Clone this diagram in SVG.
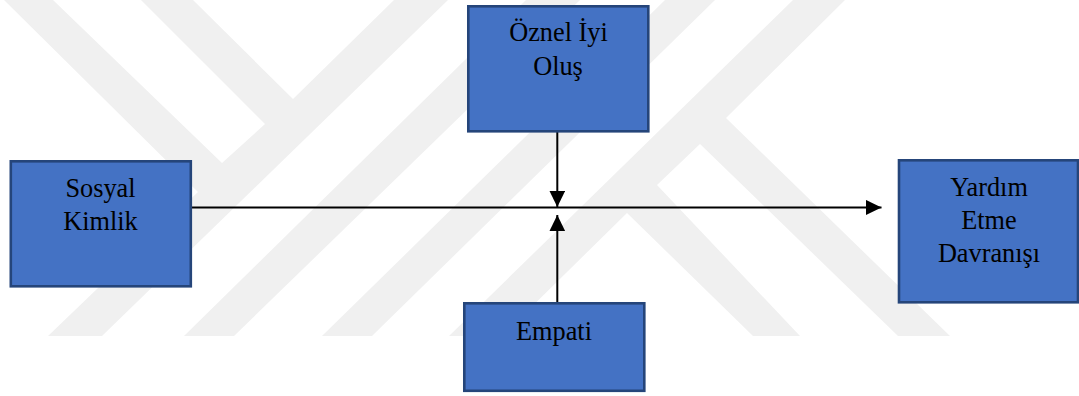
<svg xmlns="http://www.w3.org/2000/svg" width="1079" height="396" viewBox="0 0 1079 396">
  <style>
    .wm { fill: #f0f0f0; stroke: none; }
    .box { fill: #4472c4; stroke: #25457a; stroke-width: 2.6; }
    .lbl { font-family: "Liberation Serif", "Times New Roman", serif; font-size: 26.3px; fill: #000; text-anchor: middle; }
    .conn { stroke: #000; fill: none; }
  </style>
  <defs>
    <marker id="arrow" markerUnits="userSpaceOnUse" markerWidth="16" markerHeight="16" viewBox="0 0 16 16" refX="16" refY="8" orient="auto">
      <path d="M0 0.2L16 8L0 15.8Z" fill="#000"/>
    </marker>
  </defs>
  <rect width="1079" height="396" fill="#fff"/>
  <g id="watermark">
    <polygon class="wm" points="4,0 198,192 48,336 102,336 448,0 394,0 293,99 193,0 141,0 265,124 222,163 53,0"/>
    <polygon class="wm" points="526,0 184,336 234,336 580,0"/>
    <polygon class="wm" points="665,0 322,336 372,336 715,0"/>
    <polygon class="wm" points="793,0 449,336 502,336 627,213 753,336 800,336 657,185 700,144 898,336 950,336 726,118 845,0"/>
  </g>
  <g id="connectors">
    <line class="conn" stroke-width="1.8" x1="191" y1="207.5" x2="881.5" y2="207.5" marker-end="url(#arrow)"/>
    <line class="conn" stroke-width="2" x1="557.3" y1="132" x2="557.3" y2="207" marker-end="url(#arrow)"/>
    <line class="conn" stroke-width="2" x1="557.3" y1="302" x2="557.3" y2="215" marker-end="url(#arrow)"/>
  </g>
  <g id="node-sosyal-kimlik">
    <rect class="box" x="10.8" y="161.3" width="180" height="125"/>
    <text class="lbl" x="100.5" y="197">Sosyal</text>
    <text class="lbl" x="100.5" y="230">Kimlik</text>
  </g>
  <g id="node-oznel-iyi-olus">
    <rect class="box" x="468.3" y="6.3" width="180" height="125"/>
    <text class="lbl" x="558.5" y="40.5">Öznel İyi</text>
    <text class="lbl" x="558" y="75">Oluş</text>
  </g>
  <g id="node-empati">
    <rect class="box" x="464.3" y="303.3" width="180" height="87.5"/>
    <text class="lbl" x="554" y="340">Empati</text>
  </g>
  <g id="node-yardim-etme-davranisi">
    <rect class="box" x="899" y="160.3" width="179" height="142"/>
    <text class="lbl" x="989" y="196">Yardım</text>
    <text class="lbl" x="989" y="229">Etme</text>
    <text class="lbl" x="989" y="262">Davranışı</text>
  </g>
</svg>
